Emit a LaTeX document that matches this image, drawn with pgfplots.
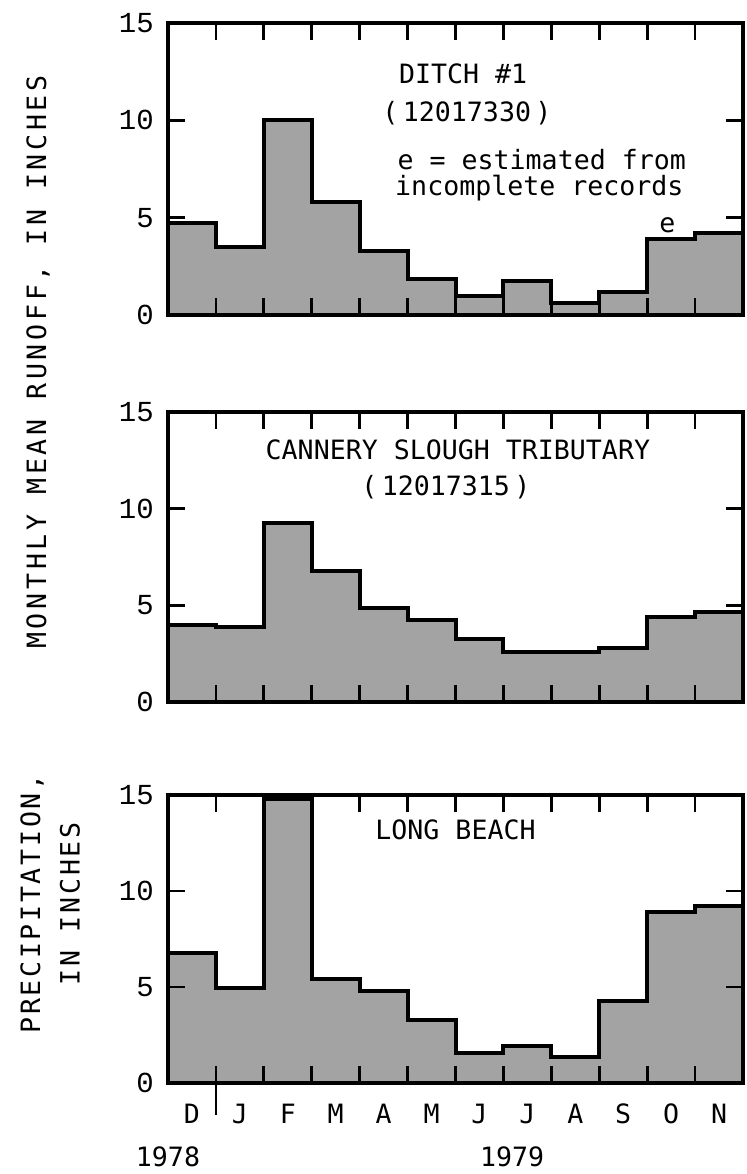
\documentclass[border=0pt]{standalone}
\usepackage{fontspec}
\setmainfont{DejaVu Sans Mono}
\newfontfamily\tickfont{Liberation Mono}
\usepackage{pgfplots}
\pgfplotsset{compat=1.18}

\pgfplotstableread{
x ditch cannery beach
0 4.7  3.99 6.75
1 3.5  3.9  4.96
2 10.0 9.27 14.8
3 5.8  6.76 5.44
4 3.3  4.85 4.79
5 1.83 4.25 3.28
6 0.96 3.26 1.57
7 1.77 2.6  1.93
8 0.6  2.6  1.33
9 1.2  2.77 4.27
10 3.9 4.4  8.9
11 4.2 4.68 9.23
12 4.2 4.68 9.23
}\datatable

\begin{document}
\begin{tikzpicture}[font=\fontsize{13.3}{15}\selectfont]
\path[use as bounding box] (0,0) rectangle (373.5pt,587pt);
\pgfplotsset{
  panel/.style={
    scale only axis, width=287.5pt, anchor=south west,
    xmin=0, xmax=12, ymin=0, ymax=15,
    xtick={1,...,11}, xticklabels={},
    ytick={0,5,10,15},
    tick align=inside, major tick length=8.5pt,
    xtick pos=both, ytick pos=both, yticklabel pos=left,
    axis line style={line width=1.8pt},
    every tick/.style={line width=1.4pt, black},
    axis on top,
    /pgf/number format/assume math mode=true,
    yticklabel style={xshift=-3.6pt, font=\tickfont\fontsize{14.5}{16}\selectfont},
    clip=false,
  },
  runoff/.style={const plot, draw=black, line width=2pt, fill=black!36},
}

% Top panel: Ditch #1
\begin{axis}[panel, height=146pt, at={(84pt,429.5pt)}]
\addplot[runoff] table[x=x, y=ditch] {\datatable} \closedcycle;
\node at (axis cs:6.16,12.4) {DITCH \#1};
\node at (axis cs:6.24,10.37) {(\,12017330\,)};
\node at (axis cs:7.8,7.98) {e = estimated from};
\node at (axis cs:7.75,6.5) {incomplete records};
\node at (axis cs:10.42,4.6) {e};
\end{axis}

% Middle panel: Cannery Slough Tributary
\begin{axis}[panel, height=145pt, at={(84pt,236pt)}]
\addplot[runoff] table[x=x, y=cannery] {\datatable} \closedcycle;
\node at (axis cs:6.05,13.03) {CANNERY SLOUGH TRIBUTARY};
\node at (axis cs:5.8,11.1) {(\,12017315\,)};
\end{axis}

% Bottom panel: Long Beach precipitation
\begin{axis}[panel, height=144pt, at={(84pt,45.5pt)},
  extra x ticks={0.5,1.5,...,11.5},
  extra x tick labels={D,J,F,M,A,M,J,J,A,S,O,N},
  extra x tick style={major tick length=0pt},
  xticklabel style={yshift=-7pt}]
\addplot[runoff] table[x=x, y=beach] {\datatable} \closedcycle;
\node at (axis cs:6.0,13.2) {LONG BEACH};
\draw[line width=1.4pt] (axis cs:1,0) -- ++(0,-16pt);
\node at (axis cs:0,0) [yshift=-37pt] {1978};
\node at (axis cs:7.18,0) [yshift=-37pt] {1979};
\end{axis}

\node[rotate=90] at (19pt,406pt) {\addfontfeatures{LetterSpace=14}MONTHLY MEAN RUNOFF, IN INCHES};
\node[rotate=90] at (16pt,135pt) {\addfontfeatures{LetterSpace=10}PRECIPITATION,};
\node[rotate=90] at (35pt,135pt) {\addfontfeatures{LetterSpace=10}IN INCHES};
\end{tikzpicture}
\end{document}
